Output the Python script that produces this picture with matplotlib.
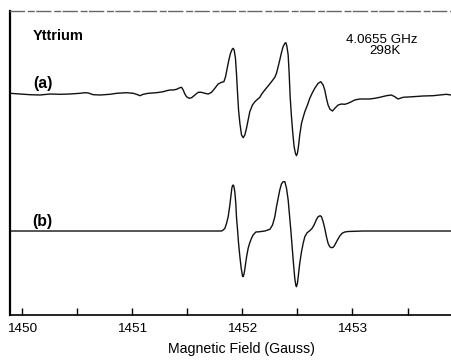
import numpy as np
import matplotlib

matplotlib.use("Agg")
import matplotlib.pyplot as plt
from matplotlib.ticker import MultipleLocator, NullFormatter

# Trace (a): measured spectrum, field in Gauss, signal in arbitrary units
field_a = [
    1449.894, 1449.985, 1450.075, 1450.166, 1450.257, 1450.347, 1450.438,
    1450.528, 1450.574, 1450.604, 1450.649, 1450.710, 1450.800, 1450.861,
    1450.951, 1451.012, 1451.042, 1451.072, 1451.102, 1451.148, 1451.223,
    1451.284, 1451.314, 1451.344, 1451.374, 1451.405, 1451.435, 1451.450,
    1451.465, 1451.480, 1451.495, 1451.519, 1451.541, 1451.571, 1451.601,
    1451.631, 1451.661, 1451.692, 1451.722, 1451.752, 1451.782, 1451.813,
    1451.834, 1451.849, 1451.864, 1451.879, 1451.894, 1451.909, 1451.918,
    1451.927, 1451.939, 1451.948, 1451.958, 1451.967, 1451.979, 1451.994,
    1452.009, 1452.024, 1452.039, 1452.054, 1452.069, 1452.093, 1452.115,
    1452.139, 1452.160, 1452.175, 1452.205, 1452.235, 1452.266, 1452.296,
    1452.311, 1452.326, 1452.341, 1452.356, 1452.371, 1452.387, 1452.396,
    1452.405, 1452.417, 1452.426, 1452.435, 1452.447, 1452.459, 1452.471,
    1452.483, 1452.492, 1452.501, 1452.510, 1452.522, 1452.538, 1452.553,
    1452.568, 1452.592, 1452.613, 1452.634, 1452.658, 1452.689, 1452.713,
    1452.734, 1452.749, 1452.764, 1452.779, 1452.797, 1452.819, 1452.840,
    1452.870, 1452.900, 1452.930, 1452.960, 1452.991, 1453.021, 1453.066,
    1453.157, 1453.202, 1453.248, 1453.308, 1453.353, 1453.384, 1453.414,
    1453.459, 1453.550, 1453.640, 1453.731, 1453.791, 1453.852, 1453.894,
]
signal_a = [
    0.7, 0.0, -0.7, -1.0, 0.0, -0.3, 0.0,
    0.7, 1.3, 1.0, -0.7, -1.0, -0.3, 0.7,
    1.3, 0.7, -0.3, -1.7, -0.3, 0.7, 1.3,
    2.3, 3.3, 4.0, 4.0, 4.7, 6.3, 6.7,
    4.0, 0.0, -2.7, -4.3, -3.7, -1.0, 1.7,
    1.7, 0.7, 0.0, 1.7, 5.7, 10.0, 11.7,
    12.3, 17.3, 25.7, 34.0, 40.7, 44.7, 45.7,
    44.0, 35.7, 20.7, 0.7, -16.0, -29.3, -41.0,
    -43.7, -41.0, -34.3, -26.0, -17.7, -11.0, -7.7,
    -5.3, -3.3, -0.3, 4.0, 8.0, 12.3, 16.7,
    20.7, 27.3, 34.0, 41.3, 47.3, 50.7, 51.3,
    48.0, 39.0, 20.7, -2.7, -22.7, -39.3, -52.7,
    -59.3, -61.7, -59.3, -52.7, -41.0, -29.3, -23.3,
    -17.7, -11.0, -4.3, 0.7, 5.7, 10.7, 12.3,
    9.0, 4.0, -4.3, -11.0, -15.3, -17.0, -14.3,
    -11.0, -10.0, -10.3, -9.3, -7.7, -6.0, -5.0,
    -5.0, -4.3, -3.3, -1.7, -1.0, -2.7, -5.0,
    -3.3, -2.7, -2.0, -1.7, -1.0, -0.3, -1.0,
]

# Trace (b): simulated spectrum
field_b = [
    1449.894, 1451.813, 1451.828, 1451.843, 1451.858, 1451.873, 1451.888,
    1451.897, 1451.906, 1451.912, 1451.918, 1451.924, 1451.933, 1451.942,
    1451.948, 1451.958, 1451.967, 1451.979, 1451.991, 1452.003, 1452.009,
    1452.018, 1452.027, 1452.039, 1452.054, 1452.069, 1452.084, 1452.099,
    1452.124, 1452.160, 1452.205, 1452.251, 1452.275, 1452.296, 1452.311,
    1452.326, 1452.341, 1452.356, 1452.371, 1452.387, 1452.402, 1452.417,
    1452.429, 1452.441, 1452.453, 1452.465, 1452.477, 1452.486, 1452.492,
    1452.501, 1452.510, 1452.522, 1452.538, 1452.553, 1452.568, 1452.589,
    1452.613, 1452.634, 1452.652, 1452.674, 1452.689, 1452.707, 1452.719,
    1452.734, 1452.749, 1452.764, 1452.779, 1452.794, 1452.809, 1452.825,
    1452.840, 1452.864, 1452.885, 1452.906, 1452.930, 1452.960, 1453.100,
    1453.894,
]
signal_b = [
    0.0, 0.0, 1.0, 2.7, 7.7, 14.3, 26.0,
    34.3, 42.7, 45.3, 46.0, 45.0, 39.3, 27.7,
    14.3, 1.0, -12.3, -25.7, -37.3, -45.0, -45.7,
    -42.3, -35.7, -26.3, -17.3, -11.7, -7.3, -4.0,
    -1.0, -0.7, 0.0, 1.7, 6.0, 14.3, 24.3,
    32.7, 41.0, 47.0, 49.3, 49.3, 42.7, 31.0,
    16.0, 1.0, -15.7, -32.3, -47.3, -54.0, -55.7,
    -52.3, -44.0, -32.3, -20.7, -12.3, -5.7, -1.7,
    0.3, 2.7, 6.0, 11.7, 14.3, 15.3, 14.3,
    9.3, 2.7, -5.7, -12.3, -15.7, -16.7, -16.3,
    -14.0, -9.0, -5.0, -2.3, -1.0, -0.5, 0.0,
    0.0,
]

offset_a = 221
offset_b = 84

FONT = "Liberation Sans"


def main():
    fig = plt.figure(figsize=(4.51, 3.63), dpi=100)
    ax = fig.add_axes([0.0222, 0.1322, 0.9778, 0.8375])

    ax.plot(field_a, np.array(signal_a) + offset_a, color="#111111", lw=1.0)
    ax.plot(field_b, np.array(signal_b) + offset_b, color="#111111", lw=1.0)

    ax.set_xlim(1449.894, 1453.894)
    ax.set_ylim(0, 304)

    ax.spines["right"].set_visible(False)
    ax.spines["left"].set_linewidth(1.6)
    ax.spines["bottom"].set_linewidth(1.2)
    ax.spines["top"].set_linewidth(1.0)
    ax.spines["top"].set_color("#666666")
    ax.spines["top"].set_linestyle((0, (10, 3, 4, 2)))

    ax.set_yticks([])
    ax.xaxis.set_major_locator(MultipleLocator(1))
    ax.xaxis.set_minor_locator(MultipleLocator(0.5))
    ax.xaxis.set_minor_formatter(NullFormatter())
    ax.tick_params(axis="x", which="both", direction="in", length=5, width=1.0,
                   pad=6, labelsize=9.7)
    for lbl in ax.get_xticklabels():
        lbl.set_fontfamily(FONT)

    ax.set_xlabel("Magnetic Field (Gauss)", fontsize=10.2, fontfamily=FONT)
    ax.xaxis.set_label_coords(0.524, -0.09)

    ax.text(0.052, 0.918, "Yttrium", transform=ax.transAxes, fontsize=10.5,
            fontweight="bold", fontfamily=FONT, ha="left", va="center")
    ax.text(0.052, 0.763, "(a)", transform=ax.transAxes, fontsize=11.3,
            fontweight="bold", fontfamily=FONT, ha="left", va="center")
    ax.text(0.050, 0.309, "(b)", transform=ax.transAxes, fontsize=11.3,
            fontweight="bold", fontfamily=FONT, ha="left", va="center")
    ax.text(0.844, 0.905, "4.0655 GHz", transform=ax.transAxes, fontsize=9.6,
            fontfamily=FONT, ha="center", va="center")
    ax.text(0.850, 0.868, "298K", transform=ax.transAxes, fontsize=9.6,
            fontfamily=FONT, ha="center", va="center")

    fig.savefig("out.png", dpi=100)


if __name__ == "__main__":
    main()
